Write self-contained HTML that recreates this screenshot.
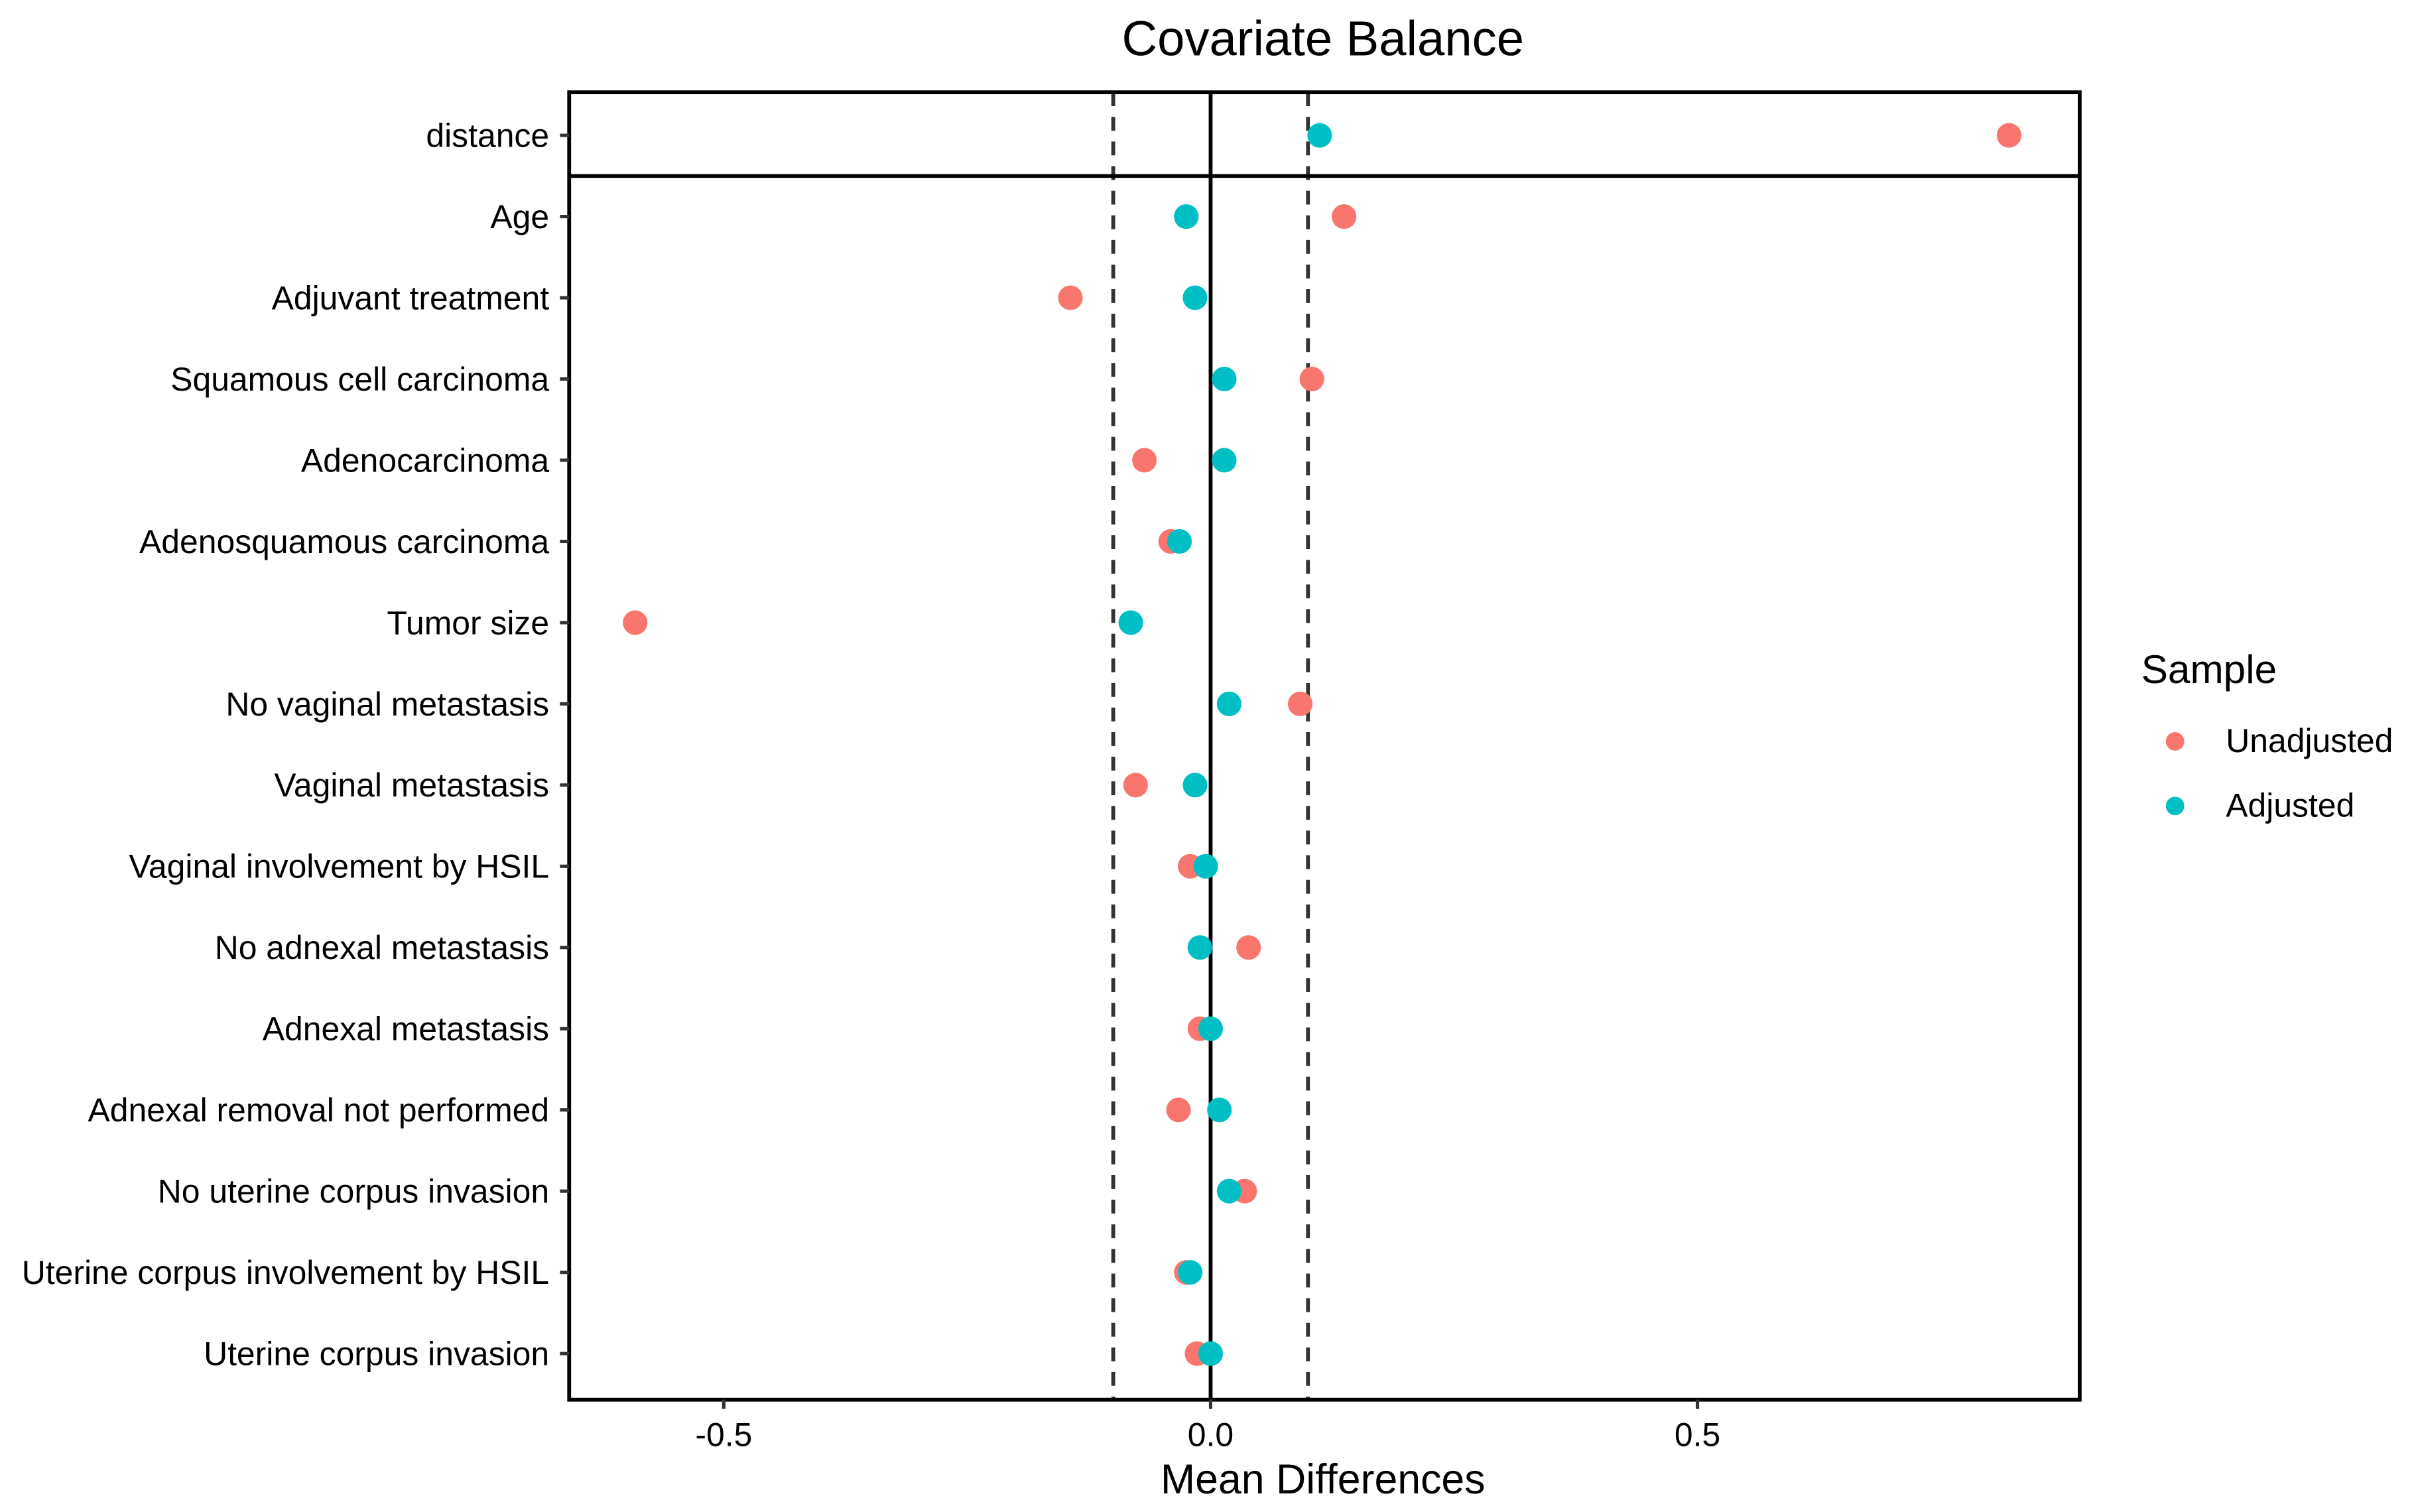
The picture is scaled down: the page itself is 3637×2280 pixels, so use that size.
<!DOCTYPE html>
<html><head><meta charset="utf-8"><style>
html,body{margin:0;padding:0;background:#fff}
svg{display:block;font-family:"Liberation Sans",Arial,sans-serif}
</style></head><body>
<svg id="chart" width="3637" height="2280" viewBox="0 0 1568 983" xmlns="http://www.w3.org/2000/svg">
<rect width="1568" height="983" fill="#fff"/>
<text x="860" y="36" font-size="32" text-anchor="middle">Covariate Balance</text>
<g id="plot"></g>
<text x="860" y="971" font-size="27" text-anchor="middle">Mean Differences</text>
<g>
<text x="1392" y="444" font-size="26">Sample</text>
<g>
<circle cx="1414" cy="482" r="6" fill="#F8766D"/>
<text x="1447" y="489" font-size="21.5">Unadjusted</text></g>
<g>
<circle cx="1414" cy="524" r="6" fill="#00BFC4"/>
<text x="1447" y="531" font-size="21.5">Adjusted</text></g>
</g>
</svg>
<script>
const categories=["distance","Age","Adjuvant treatment","Squamous cell carcinoma","Adenocarcinoma","Adenosquamous carcinoma","Tumor size","No vaginal metastasis","Vaginal metastasis","Vaginal involvement by HSIL","No adnexal metastasis","Adnexal metastasis","Adnexal removal not performed","No uterine corpus invasion","Uterine corpus involvement by HSIL","Uterine corpus invasion"];
const unadjusted=[0.82,0.137,-0.144,0.104,-0.068,-0.041,-0.591,0.092,-0.077,-0.021,0.039,-0.011,-0.033,0.035,-0.025,-0.014];
const adjusted=[0.112,-0.025,-0.016,0.014,0.014,-0.032,-0.082,0.019,-0.016,-0.005,-0.011,0,0.009,0.019,-0.021,0];
const xTicks=[-0.5,0,0.5];
const xTickLabels=["-0.5","0.0","0.5"];
const thresholds=[-0.1,0.1];
const NS="http://www.w3.org/2000/svg";
const L=370,R=1352,T=60,B=910;
const x=v=>787+v*633;
const y=i=>88+i*52.8;
const g=document.getElementById('plot');
function mk(t,a){const e=document.createElementNS(NS,t);for(const k in a)e.setAttribute(k,a[k]);g.appendChild(e);return e;}
thresholds.forEach(t=>{const e=mk('line',{x1:x(t),x2:x(t),y1:T,y2:B,stroke:'#333','stroke-width':2.5,'stroke-dasharray':'9,7'});

});
let z=mk('line',{x1:x(0),x2:x(0),y1:T,y2:B,stroke:'#000','stroke-width':2.5});


let sep=mk('line',{x1:L,x2:R,y1:(y(0)+y(1))/2,y2:(y(0)+y(1))/2,stroke:'#000','stroke-width':2.5});


let fr=mk('rect',{x:L,y:T,width:R-L,height:B-T,fill:'none',stroke:'#000','stroke-width':2.5});


categories.forEach((c,i)=>{
 const tk=mk('line',{x1:L-6,x2:L,y1:y(i),y2:y(i),stroke:'#333','stroke-width':2.2});
 
 
 const t=mk('text',{x:L-13,y:y(i)+7.5,'font-size':21.5,'text-anchor':'end',fill:'#000'});
 t.textContent=c;
 
 
});
xTicks.forEach((v,i)=>{
 const tk=mk('line',{x1:x(v),x2:x(v),y1:B,y2:B+6,stroke:'#333','stroke-width':2.2});
 
 
 const t=mk('text',{x:x(v),y:B+30,'font-size':21.5,'text-anchor':'middle',fill:'#000'});
 t.textContent=xTickLabels[i];
 
 
});
unadjusted.forEach((v,i)=>{const p=mk('circle',{cx:x(v),cy:y(i),r:8,fill:'#F8766D'});
 
 });
adjusted.forEach((v,i)=>{const p=mk('circle',{cx:x(v),cy:y(i),r:8,fill:'#00BFC4'});
 
 });
</script>
</body></html>
